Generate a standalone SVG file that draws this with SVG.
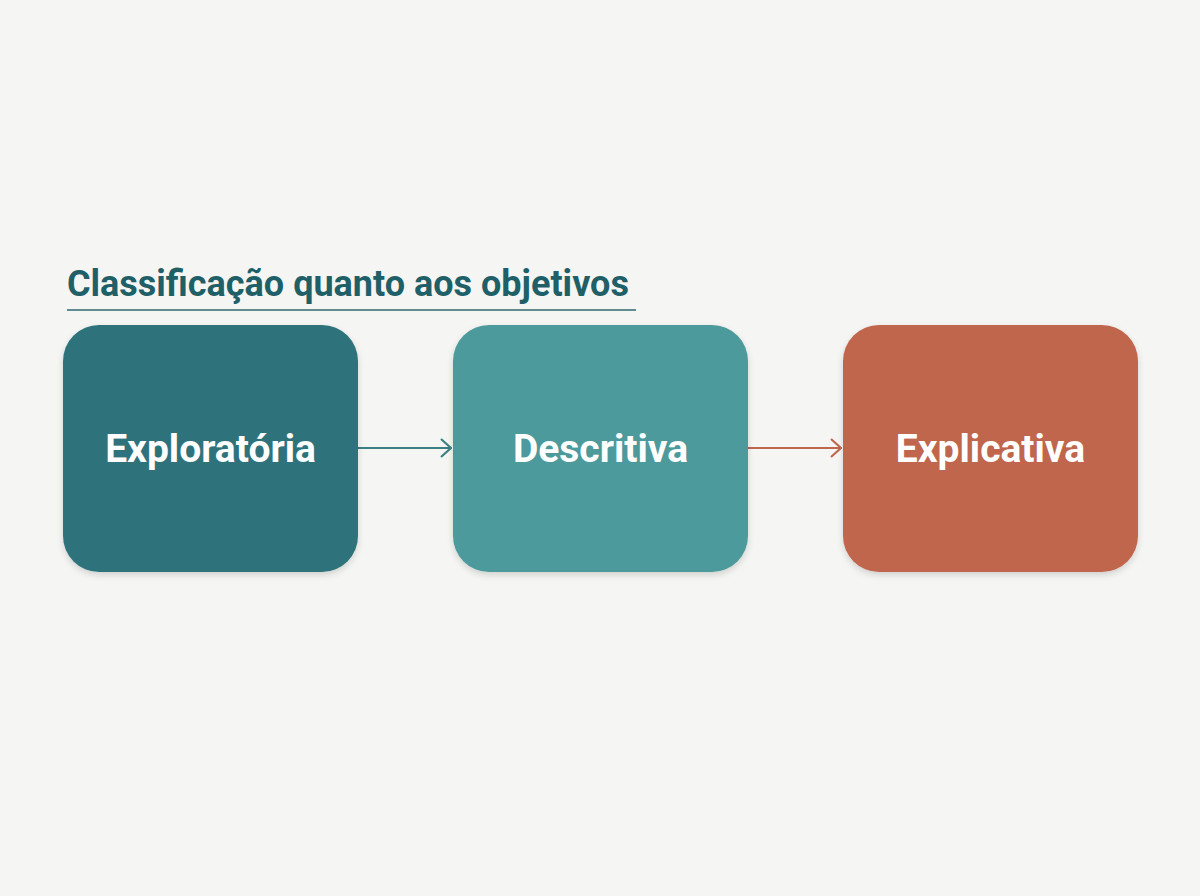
<svg xmlns="http://www.w3.org/2000/svg" width="1200" height="896" viewBox="0 0 1200 896">
<style>
.lbl{font-family:Roboto,"Liberation Sans",sans-serif;font-weight:700;font-size:39px;fill:#ffffff;text-anchor:middle}
.title{font-family:Roboto,"Liberation Sans",sans-serif;font-weight:700;font-size:36px;fill:#1f6068}
</style>
<defs>
<marker id="a1" viewBox="0 0 12 20" markerWidth="12" markerHeight="20" refX="11" refY="10" orient="auto" markerUnits="userSpaceOnUse"><path d="M1 1 L11 10 L1 19" fill="none" stroke="#3a8082" stroke-width="2.2"/></marker>
<marker id="a2" viewBox="0 0 12 20" markerWidth="12" markerHeight="20" refX="11" refY="10" orient="auto" markerUnits="userSpaceOnUse"><path d="M1 1 L11 10 L1 19" fill="none" stroke="#c0664d" stroke-width="2.2"/></marker>
<filter id="sh" x="-10%" y="-10%" width="120%" height="130%"><feDropShadow dx="0" dy="3" stdDeviation="3" flood-opacity="0.15"/></filter>
</defs>
<rect width="1200" height="896" fill="#f5f5f3"/>
<g id="title">
<text class="title" x="67" y="296">Classificação quanto aos objetivos</text>
<line x1="67" y1="310" x2="636" y2="310" stroke="#5e8c8f" stroke-width="2"/>
</g>
<g id="connectors">
<line x1="358" y1="448" x2="451" y2="448" stroke="#3a8082" stroke-width="2.2" marker-end="url(#a1)"/>
<line x1="748" y1="448" x2="841" y2="448" stroke="#c0664d" stroke-width="2.2" marker-end="url(#a2)"/>
</g>
<g id="exploratoria">
<rect x="63" y="325" width="295" height="247" rx="36" fill="#2e737c" filter="url(#sh)"/>
<text class="lbl" x="210.5" y="462">Exploratória</text>
</g>
<g id="descritiva">
<rect x="453" y="325" width="295" height="247" rx="36" fill="#4d9a9c" filter="url(#sh)"/>
<text class="lbl" x="600.5" y="462">Descritiva</text>
</g>
<g id="explicativa">
<rect x="843" y="325" width="295" height="247" rx="36" fill="#c0664d" filter="url(#sh)"/>
<text class="lbl" x="990.5" y="462">Explicativa</text>
</g>
</svg>
